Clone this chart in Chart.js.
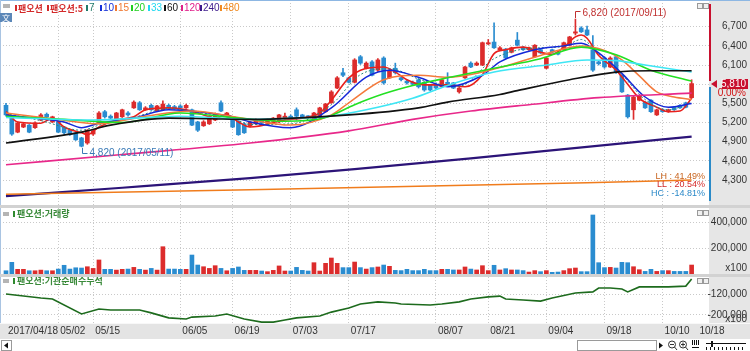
<!DOCTYPE html>
<html>
<head>
<meta charset="utf-8">
<title>팬오션</title>
<script src="https://cdn.jsdelivr.net/npm/chart.js@4.4.1/dist/chart.umd.min.js"></script>
<style>
  html, body { margin: 0; padding: 0; background: #fff; }
  #wrap { position: relative; width: 750px; height: 351px; overflow: hidden; background: #d2d2d2; }
  #wrap canvas { position: absolute; left: 0; }
</style>
</head>
<body>
<div id="wrap">
  <canvas id="priceChart" width="750" height="205" style="top:0"></canvas>
  <canvas id="volChart" width="750" height="66" style="top:208px"></canvas>
  <canvas id="instChart" width="750" height="74" style="top:277px"></canvas>
</div>
<script>
// --- 1. Data ---
const MONTH_DAYS = [
    ['04', [18, 19, 20, 21, 24, 25, 26, 27, 28]],
    ['05', [2, 4, 8, 10, 11, 12, 15, 16, 17, 18, 19, 22, 23, 24, 25, 26, 29, 30, 31]],
    ['06', [1, 2, 5, 7, 8, 9, 12, 13, 14, 15, 16, 19, 20, 21, 22, 23, 26, 27, 28, 29, 30]],
    ['07', [3, 4, 5, 6, 7, 10, 11, 12, 13, 14, 17, 18, 19, 20, 21, 24, 25, 26, 27, 28, 31]],
    ['08', [1, 2, 3, 4, 7, 8, 9, 10, 11, 14, 16, 17, 18, 21, 22, 23, 24, 25, 28, 29, 30, 31]],
    ['09', [1, 4, 5, 6, 7, 8, 11, 12, 13, 14, 15, 18, 19, 20, 21, 22, 25, 26, 27, 28, 29]],
    ['10', [10, 11, 12, 13, 16, 17]]
];
const DATES = MONTH_DAYS.flatMap(([m, days]) => days.map(d => '2017/' + m + '/' + String(d).padStart(2, '0')));

const X_TICKS = [[0, '2017/04/18'], [9, '05/02'], [15, '05/15'], [30, '06/05'], [39, '06/19'], [49, '07/03'],
    [59, '07/17'], [74, '08/07'], [83, '08/21'], [93, '09/04'], [103, '09/18'], [113, '10/10'], [119, '10/18']];

const OPEN = [5470, 5300, 5050, 5130, 5160, 5120, 5240, 5330, 5210, 5210,
    5130, 5080, 5040, 4960, 4880, 5020, 5190, 5370, 5300, 5240,
    5290, 5350, 5430, 5510, 5400, 5470, 5380, 5400, 5470, 5450,
    5460, 5430, 5400, 5210, 5150, 5180, 5240, 5510, 5300, 5240,
    5220, 5180, 5150, 5180, 5240, 5190, 5220, 5210, 5260, 5300,
    5400, 5320, 5300, 5240, 5300, 5370, 5510, 5740, 5980, 5900,
    5830, 6230, 6050, 6150, 6020, 6210, 5900, 6050, 5900, 5850,
    5830, 5870, 5830, 5790, 5800, 5760, 5830, 5820, 5680, 5900,
    6130, 6100, 6100, 6430, 6460, 6340, 6350, 6300, 6490, 6380,
    6340, 6230, 6340, 6050, 6340, 6300, 6340, 6410, 6600, 6680,
    6650, 6340, 6150, 6210, 6070, 6230, 5940, 5630, 5400, 5550,
    5520, 5550, 5320, 5400, 5370, 5440, 5470, 5510, 5590];
const HIGH = [5500, 5310, 5210, 5200, 5170, 5210, 5340, 5350, 5300, 5220,
    5140, 5090, 5050, 4970, 5090, 5090, 5370, 5390, 5320, 5360,
    5410, 5370, 5540, 5530, 5450, 5490, 5470, 5540, 5490, 5470,
    5480, 5490, 5410, 5220, 5230, 5310, 5350, 5540, 5360, 5250,
    5230, 5200, 5220, 5260, 5250, 5260, 5280, 5330, 5350, 5320,
    5430, 5330, 5310, 5360, 5440, 5500, 5700, 5920, 6050, 5910,
    6200, 6250, 6150, 6170, 6200, 6230, 6040, 6130, 5910, 5870,
    5850, 5890, 5840, 5800, 5820, 5880, 5980, 5830, 5750, 6080,
    6150, 6150, 6460, 6500, 6760, 6390, 6360, 6380, 6610, 6390,
    6380, 6420, 6350, 6220, 6350, 6310, 6460, 6550, 6820, 6700,
    6710, 6560, 6160, 6230, 6230, 6240, 5950, 5640, 5610, 5630,
    5530, 5560, 5410, 5410, 5410, 5450, 5480, 5520, 5870];
const LOW = [5300, 5000, 5040, 5120, 5040, 5110, 5230, 5270, 5200, 5040,
    5020, 5000, 4920, 4820, 4860, 5000, 5180, 5270, 5260, 5230,
    5280, 5300, 5420, 5390, 5390, 5390, 5370, 5390, 5420, 5410,
    5420, 5420, 5150, 5060, 5140, 5170, 5230, 5370, 5290, 5120,
    5000, 5030, 5130, 5170, 5180, 5180, 5210, 5200, 5250, 5250,
    5240, 5280, 5270, 5230, 5290, 5360, 5500, 5730, 5920, 5820,
    5820, 6110, 6040, 5930, 6000, 5800, 5890, 5960, 5850, 5800,
    5780, 5740, 5690, 5700, 5730, 5750, 5780, 5730, 5660, 5890,
    6060, 6090, 6090, 6420, 6360, 6330, 6200, 6290, 6400, 6330,
    6330, 6220, 6280, 6040, 6290, 6260, 6330, 6400, 6570, 6610,
    6560, 6000, 6100, 6050, 6060, 5970, 5670, 5270, 5250, 5540,
    5420, 5360, 5310, 5360, 5360, 5390, 5420, 5430, 5580];
const CLOSE = [5320, 5020, 5190, 5180, 5050, 5190, 5320, 5290, 5290, 5050,
    5040, 5010, 4930, 4830, 5080, 5070, 5350, 5290, 5270, 5350,
    5400, 5320, 5520, 5400, 5430, 5400, 5460, 5490, 5430, 5420,
    5430, 5470, 5160, 5080, 5210, 5300, 5330, 5380, 5350, 5130,
    5010, 5040, 5210, 5240, 5190, 5240, 5270, 5320, 5300, 5270,
    5300, 5290, 5290, 5350, 5430, 5490, 5680, 5900, 5940, 5830,
    6180, 6130, 6130, 5940, 6180, 5820, 6020, 5980, 5870, 5820,
    5800, 5760, 5710, 5710, 5740, 5870, 5790, 5740, 5740, 6070,
    6070, 6130, 6450, 6450, 6370, 6370, 6210, 6370, 6410, 6340,
    6370, 6410, 6290, 6210, 6300, 6270, 6450, 6540, 6620, 6620,
    6570, 6020, 6120, 6070, 6210, 5990, 5680, 5290, 5600, 5620,
    5430, 5370, 5400, 5370, 5400, 5400, 5430, 5440, 5810];

// volume, shown in units of 100 shares
const VOLUME = [25000, 90000, 36000, 36000, 25000, 25000, 30000, 25000, 25000, 38000,
    67000, 38000, 48000, 46000, 56000, 43000, 108000, 36000, 36000, 30000,
    36000, 38000, 51000, 36000, 30000, 43000, 30000, 210000, 38000, 38000,
    36000, 36000, 146000, 69000, 56000, 43000, 64000, 43000, 25000, 43000,
    54000, 28000, 28000, 28000, 23000, 18000, 28000, 62000, 23000, 23000,
    51000, 28000, 23000, 87000, 23000, 82000, 123000, 82000, 49000, 49000,
    92000, 49000, 38000, 49000, 54000, 69000, 59000, 28000, 26000, 36000,
    26000, 26000, 36000, 26000, 26000, 36000, 36000, 31000, 31000, 54000,
    38000, 31000, 64000, 26000, 67000, 31000, 41000, 31000, 31000, 26000,
    15000, 26000, 18000, 26000, 13000, 15000, 26000, 41000, 46000, 18000,
    18000, 454000, 87000, 49000, 51000, 46000, 90000, 87000, 56000, 33000,
    20000, 36000, 20000, 26000, 26000, 20000, 20000, 20000, 69000];

// moving averages, [day index, value]
const MA5 = [[0, 5370], [2, 5210], [6, 5190], [8, 5270], [10, 5130], [13, 5040], [14, 5010], [16, 5130], [19, 5240],
    [22, 5290], [24, 5400], [28, 5430], [31, 5400], [33, 5350], [36, 5270], [38, 5320], [40, 5210], [42, 5130],
    [48, 5240], [51, 5270], [54, 5350], [56, 5550], [59, 5900], [61, 6020], [65, 6070], [67, 5990], [69, 5870],
    [72, 5790], [76, 5790], [79, 5760], [82, 5950], [84, 6280], [86, 6340], [89, 6380], [92, 6300], [94, 6270],
    [96, 6380], [98, 6540], [99, 6570], [100, 6520], [102, 6250], [105, 6020], [107, 5800], [109, 5580],
    [112, 5440], [114, 5370], [116, 5380], [118, 5580]];
const MA7 = [[0, 5340], [6, 5230], [13, 5080], [16, 5160], [22, 5280], [28, 5420], [33, 5360], [39, 5270], [42, 5170],
    [49, 5180], [56, 5480], [61, 5950], [66, 6040], [72, 5850], [78, 5770], [84, 6200], [90, 6360], [96, 6390],
    [99, 6500], [102, 6280], [106, 5950], [110, 5560], [114, 5400], [118, 5520]];
const MA10 = [[0, 5320], [5, 5270], [10, 5210], [13, 5120], [16, 5190], [22, 5270], [28, 5400], [33, 5370], [39, 5290],
    [42, 5210], [49, 5120], [56, 5430], [62, 5910], [66, 6020], [71, 5910], [76, 5760], [82, 5940], [85, 6150],
    [91, 6340], [96, 6400], [99, 6440], [102, 6290], [106, 5970], [110, 5600], [114, 5440], [118, 5500]];
const MA15 = [[0, 5350], [8, 5260], [16, 5180], [24, 5300], [32, 5380], [40, 5280], [49, 5160], [56, 5320], [59, 5510],
    [65, 5870], [71, 5940], [76, 5910], [85, 6060], [92, 6250], [99, 6400], [103, 6330], [106, 6180], [109, 5930],
    [112, 5680], [115, 5600], [118, 5560]];
const MA20 = [[0, 5300], [10, 5250], [20, 5200], [30, 5350], [40, 5270], [48, 5220], [55, 5280], [60, 5480], [65, 5650],
    [70, 5780], [76, 5900], [84, 6050], [92, 6200], [99, 6380], [105, 6260], [111, 6020], [118, 5850]];
const MA33 = [[0, 5280], [15, 5240], [30, 5300], [42, 5250], [50, 5270], [55, 5290], [62, 5400], [70, 5580],
    [76, 5780], [84, 5990], [93, 6100], [100, 6180], [105, 6170], [110, 6100], [118, 5990]];
const MA60 = [[0, 4880], [13, 5050], [18, 5160], [28, 5270], [35, 5260], [42, 5250], [59, 5320], [71, 5430],
    [76, 5520], [85, 5640], [88, 5700], [97, 5870], [105, 5990], [111, 6010], [118, 6010]];
const MA120 = [[0, 4540], [20, 4700], [42, 4880], [59, 5070], [70, 5250], [80, 5380], [90, 5480], [102, 5590], [118, 5660]];
const MA240 = [[0, 4050], [20, 4180], [42, 4330], [60, 4470], [80, 4640], [100, 4820], [118, 4980]];
const MA480 = [[0, 4080], [42, 4150], [75, 4210], [100, 4260], [118, 4300]];

// institutional net buying, cumulative (x100)
const INST = [[0, -120000], [6, -135000], [8, -139000], [13, -196000], [16, -177000], [18, -181000], [23, -181000],
    [25, -192000], [28, -211000], [31, -215000], [32, -208000], [36, -204000], [38, -196000], [41, -215000],
    [44, -227000], [46, -227000], [48, -219000], [50, -211000], [54, -204000], [56, -189000], [59, -173000],
    [61, -158000], [64, -150000], [67, -154000], [68, -158000], [73, -162000], [75, -158000], [78, -150000],
    [80, -139000], [83, -131000], [85, -128000], [86, -139000], [89, -143000], [92, -147000], [94, -135000],
    [98, -116000], [101, -112000], [102, -97000], [104, -97000], [106, -101000], [107, -112000], [109, -93000],
    [111, -93000], [114, -93000], [117, -90000], [118, -63000]];

const PRICE_TICKS = [4300, 4600, 4900, 5200, 5500, 5800, 6100, 6400, 6700];
const VOL_TICKS = [200000, 400000];
const INST_TICKS = [-200000, -120000];
const RANGE_TEXT = [['LH : 41.49%', '#c8641e'], ['LL : 20.54%', '#d42a2a'], ['HC : -14.81%', '#2a88c8']];

// --- 2. Look ---
const UP = '#dc2c2c', DOWN = '#2a8cd0';
const GRID = '#c9c9c9', AXIS_BG = '#e6e6e6', AXIS_W = 41;
const NUM_FONT = '10px "Liberation Sans", Arial, sans-serif';
const SMALL_FONT = '9px "Liberation Sans", Arial, sans-serif';
const KR_FONT = 'bold 9px "Noto Sans CJK KR", sans-serif';
const X_MIN = -1.033, X_MAX = 120.99;

const fmt = v => v.toLocaleString('en-US');
const isUp = i => CLOSE[i] >= OPEN[i];
const pts = arr => arr.map(([x, y]) => ({ x, y }));

function xAxis() {
    return {
        type: 'linear', min: X_MIN, max: X_MAX, offset: false,
        grid: { color: GRID, drawTicks: false, offset: false },
        border: { display: false, dash: [1, 2] },
        ticks: { display: false },
        afterBuildTicks: s => { s.ticks = X_TICKS.slice(1, -1).map(t => ({ value: t[0] })); },
        afterFit: s => { s.height = 0; }
    };
}
function yAxis(min, max, ticks) {
    return {
        position: 'right', min, max,
        grid: { color: GRID, drawTicks: false },
        border: { display: false, dash: [1, 2] },
        ticks: { display: false },
        afterBuildTicks: s => { s.ticks = ticks.map(v => ({ value: v })); },
        afterFit: s => { s.width = AXIS_W; }
    };
}
const baseOptions = {
    responsive: false, animation: false, devicePixelRatio: 1,
    layout: { padding: 0 },
    plugins: { legend: { display: false }, tooltip: { enabled: false } }
};

function text(ctx, s, x, y, color, font, align) {
    ctx.font = font; ctx.fillStyle = color;
    ctx.textAlign = align || 'left'; ctx.textBaseline = 'middle';
    ctx.fillText(s, x, y);
}
function panelFrame(chart) {
    const { ctx, chartArea: a, width, height } = chart;
    ctx.save();
    ctx.fillStyle = '#fff'; ctx.fillRect(0, 0, width, height);
    ctx.fillStyle = AXIS_BG; ctx.fillRect(a.right, 0, width - a.right, height);
    ctx.restore();
}
function axisLabels(chart) {
    const { ctx, width } = chart, ys = chart.scales.y;
    ys.ticks.forEach(t => text(ctx, fmt(t.value), width - 3, ys.getPixelForValue(t.value), '#333', NUM_FONT, 'right'));
}
function panelButtons(ctx, x, y) {
    ctx.strokeStyle = '#9a9a9a'; ctx.fillStyle = '#f0f0f0'; ctx.lineWidth = 1;
    [x, x + 6].forEach(bx => { ctx.fillRect(bx, y, 5, 5); ctx.strokeRect(bx + 0.5, y + 0.5, 5, 5); });
}
function panelTitle(ctx, y, label) {
    ctx.fillStyle = '#b4b4b4'; ctx.fillRect(3, y - 2, 6, 4);
    ctx.fillStyle = '#2f8a2f'; ctx.fillRect(13, y - 3, 2, 6);
    text(ctx, label, 17, y, '#3a8a3a', KR_FONT);
}

// --- 3. Price panel ---
const LEGEND = [['팬오션', '#d42a2a', 15], ['팬오션:5', '#d42a2a', 47], ['7', '#1f7a6a', 86], ['10', '#1430d8', 100],
    ['15', '#f07830', 115], ['20', '#20d020', 131], ['33', '#20d8f0', 148], ['60', '#111', 164],
    ['120', '#e0208a', 181], ['240', '#3c1a8c', 200], ['480', '#f08a20', 220]];

const pricePlugin = {
    id: 'priceDeco',
    beforeDraw: panelFrame,
    afterDraw(chart) {
        const { ctx, chartArea: a, width } = chart;
        const xs = chart.scales.x, ys = chart.scales.y;
        ctx.save();
        ctx.fillStyle = '#8db7e3'; ctx.fillRect(0, 0, width, 1);
        ctx.fillStyle = '#a9c4e2'; ctx.fillRect(0, 0, 1, chart.height);
        axisLabels(chart);

        // legend
        ctx.fillStyle = '#b4b4b4'; ctx.fillRect(3, 4, 7, 4);
        LEGEND.forEach(([s, c, x]) => {
            ctx.fillStyle = c; ctx.fillRect(x, 5, 2, 6);
            text(ctx, s, x + 3, 8.5, c, /^\d+$/.test(s) ? NUM_FONT : KR_FONT);
        });
        ctx.fillStyle = '#5b87b8'; ctx.fillRect(0, 13, 12, 9);
        text(ctx, '文', 6, 17.5, '#fff', '8px "Noto Sans CJK KR"', 'center');
        panelButtons(ctx, 697, 3);

        // high / low marks
        const hi = HIGH.indexOf(Math.max(...HIGH)), lo = LOW.indexOf(Math.min(...LOW));
        const hx = Math.round(xs.getPixelForValue(hi)) + 0.5, hy = ys.getPixelForValue(HIGH[hi]);
        ctx.strokeStyle = '#c03030'; ctx.lineWidth = 1;
        ctx.beginPath(); ctx.moveTo(hx, hy - 1); ctx.lineTo(hx, 11.5); ctx.lineTo(hx + 5, 11.5); ctx.stroke();
        text(ctx, fmt(HIGH[hi]) + ' (' + DATES[hi] + ')', hx + 7, 13, '#c03030', NUM_FONT);
        const lx = Math.round(xs.getPixelForValue(lo)) + 0.5, ly = ys.getPixelForValue(LOW[lo]);
        ctx.strokeStyle = '#3a7ab6';
        ctx.beginPath(); ctx.moveTo(lx, ly + 1); ctx.lineTo(lx, 153.5); ctx.lineTo(lx + 5, 153.5); ctx.stroke();
        text(ctx, fmt(LOW[lo]) + ' (' + DATES[lo] + ')', lx + 7, 153, '#3a7ab6', NUM_FONT);

        RANGE_TEXT.forEach(([s, c], k) => text(ctx, s, a.right - 4, 176.5 + k * 8.5, c, SMALL_FONT, 'right'));

        // current price marker
        const last = CLOSE[CLOSE.length - 1], yl = Math.round(ys.getPixelForValue(last));
        ctx.fillStyle = '#c8102e'; ctx.fillRect(a.right, 4, 2, yl - 7);
        ctx.fillStyle = '#2a8ac8'; ctx.fillRect(a.right, yl + 3, 2, 198 - yl);
        ctx.fillStyle = '#c8102e';
        ctx.beginPath(); ctx.moveTo(a.right + 2, yl); ctx.lineTo(a.right + 8, yl - 4); ctx.lineTo(a.right + 8, yl + 4); ctx.fill();
        ctx.fillRect(width - 28, yl - 5, 26, 10);
        text(ctx, fmt(last), width - 4, yl, '#fff', NUM_FONT, 'right');
        text(ctx, '0.00%', width - 4, yl + 9, '#d01010', NUM_FONT, 'right');
        ctx.restore();
    }
};

const maLine = (data, color, width, dash) => ({
    type: 'line', data: pts(data), borderColor: color, borderWidth: width, borderDash: dash || [],
    pointRadius: 0, cubicInterpolationMode: 'monotone', order: 0
});

new Chart(document.getElementById('priceChart'), {
    type: 'bar',
    data: {
        datasets: [
            {
                data: DATES.map((d, i) => ({ x: i, y: [LOW[i], HIGH[i]] })),
                backgroundColor: c => isUp(c.dataIndex) ? UP : DOWN,
                barThickness: 1, grouped: false, order: 2
            },
            {
                data: DATES.map((d, i) => ({ x: i, y: [OPEN[i], CLOSE[i]] })),
                backgroundColor: c => isUp(c.dataIndex) ? UP : DOWN,
                barThickness: 4, minBarLength: 1, grouped: false, order: 2
            },
            maLine(MA480, '#f07c1c', 1.5),
            maLine(MA240, '#2c1478', 2.2),
            maLine(MA120, '#e8288a', 1.6),
            maLine(MA60, '#111111', 1.6),
            maLine(MA33, '#3ee6f4', 1.6),
            maLine(MA20, '#22e022', 1.6),
            maLine(MA15, '#f47a3c', 1.5),
            maLine(MA10, '#1428d8', 1.5),
            maLine(MA7, '#2a8a7a', 1, [2, 2]),
            maLine(MA5, '#e8201c', 1.6)
        ]
    },
    options: {
        ...baseOptions,
        scales: { x: xAxis(), y: yAxis(3910, 7118, PRICE_TICKS) }
    },
    plugins: [pricePlugin]
});

// --- 4. Volume panel ---
new Chart(document.getElementById('volChart'), {
    type: 'bar',
    data: {
        datasets: [{
            data: VOLUME.map((v, i) => ({ x: i, y: v })),
            backgroundColor: c => isUp(c.dataIndex) ? UP : DOWN,
            barThickness: 4
        }]
    },
    options: {
        ...baseOptions,
        scales: { x: xAxis(), y: yAxis(0, 507700, VOL_TICKS) }
    },
    plugins: [{
        id: 'volDeco',
        beforeDraw: panelFrame,
        afterDraw(chart) {
            const { ctx, chartArea: a, width } = chart;
            ctx.save();
            ctx.fillStyle = '#a9c4e2'; ctx.fillRect(0, 0, 1, chart.height);
            axisLabels(chart);
            text(ctx, 'x100', width - 3, a.bottom - 6, '#333', NUM_FONT, 'right');
            panelTitle(ctx, 6, '팬오션:거래량');
            panelButtons(ctx, 697, 2);
            ctx.restore();
        }
    }]
});

// --- 5. Institution cumulative panel + date strip ---
new Chart(document.getElementById('instChart'), {
    type: 'line',
    data: {
        datasets: [{
            data: pts(INST), borderColor: '#1d6b1d', borderWidth: 1.6, pointRadius: 0, tension: 0
        }]
    },
    options: {
        ...baseOptions,
        layout: { padding: { bottom: 28 } },
        scales: { x: xAxis(), y: yAxis(-230500, -55200, INST_TICKS) }
    },
    plugins: [{
        id: 'instDeco',
        beforeDraw: panelFrame,
        afterDraw(chart) {
            const { ctx, chartArea: a, width, height } = chart, xs = chart.scales.x;
            ctx.save();
            ctx.fillStyle = '#a9c4e2'; ctx.fillRect(0, 0, 1, a.bottom);
            axisLabels(chart);
            text(ctx, 'x100', width - 3, a.bottom - 4, '#333', NUM_FONT, 'right');
            panelTitle(ctx, 4, '팬오션:기관순매수누적');
            panelButtons(ctx, 697, 1);

            // date strip
            const top = a.bottom;
            ctx.fillStyle = '#e4e4e4'; ctx.fillRect(0, top, width, 16);
            ctx.fillStyle = '#f8f8f8'; ctx.fillRect(0, top, width, 1);
            X_TICKS.forEach(([i, s]) => text(ctx, s, xs.getPixelForValue(i) + 2, top + 8.5, '#333', NUM_FONT));

            // scroll bar row
            const sy = top + 16;
            ctx.fillStyle = '#fff'; ctx.fillRect(0, sy, width, height - sy);
            ctx.strokeStyle = '#9a9a9a'; ctx.lineWidth = 1;
            ctx.strokeRect(1.5, sy + 1.5, 10, 10);
            ctx.fillStyle = '#111';
            ctx.beginPath(); ctx.moveTo(4, sy + 6.5); ctx.lineTo(8, sy + 3.5); ctx.lineTo(8, sy + 9.5); ctx.fill();
            ctx.strokeRect(577.5, sy + 1.5, 79, 10);
            ctx.beginPath(); ctx.moveTo(663, sy + 6.5); ctx.lineTo(659, sy + 3.5); ctx.lineTo(659, sy + 9.5); ctx.fill();
            [672, 683].forEach((cx, k) => {
                ctx.strokeStyle = '#333';
                ctx.beginPath(); ctx.arc(cx, sy + 5.5, 3.5, 0, Math.PI * 2); ctx.stroke();
                ctx.beginPath(); ctx.moveTo(cx + 2.5, sy + 8); ctx.lineTo(cx + 5, sy + 11); ctx.stroke();
                ctx.beginPath(); ctx.moveTo(cx - 2, sy + 5.5); ctx.lineTo(cx + 2, sy + 5.5);
                if (k) { ctx.moveTo(cx, sy + 3.5); ctx.lineTo(cx, sy + 7.5); }
                ctx.stroke();
            });
            for (let k = 0; k < 4; k++) ctx.fillRect(692 + k * 2, sy + 1, 1, 5);
            ctx.fillRect(692, sy + 8, 7, 1);
            ctx.fillRect(706, sy + 4, 40, 1);
            ctx.fillRect(711, sy + 2, 2, 6);
            for (let k = 0; k < 10; k++) ctx.fillRect(706 + k * 4, sy + 8, 1, 3);
            ctx.restore();
        }
    }]
});
</script>
</body>
</html>
